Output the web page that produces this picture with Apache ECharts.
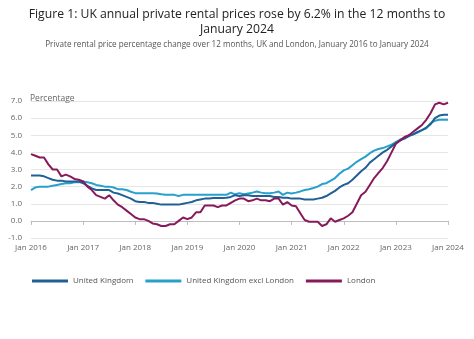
<!DOCTYPE html>
<html>
<head>
<meta charset="utf-8">
<script src="https://cdn.jsdelivr.net/npm/echarts@6/dist/echarts.min.js"></script>
<style>
html,body{margin:0;padding:0;background:#fff;}
#chart{width:474px;height:339px;}
</style>
</head>
<body>
<div id="chart"></div>
<script>
const monthNames = ['Jan','Feb','Mar','Apr','May','Jun','Jul','Aug','Sep','Oct','Nov','Dec'];
const years = [2016,2017,2018,2019,2020,2021,2022,2023,2024];
const categories = [];
years.forEach(y => monthNames.forEach((m, i) => { if (y < 2024 || i === 0) categories.push(m + ' ' + y); }));

const yTicks = [-1, 0, 1, 2, 3, 4, 5, 6, 7];

const unitedKingdom = [
  2.65, 2.65, 2.65, 2.6, 2.5, 2.4, 2.35, 2.35, 2.3, 2.3, 2.3, 2.3,
  2.2, 2.05, 1.9, 1.8, 1.8, 1.8, 1.8, 1.65, 1.6, 1.5, 1.4, 1.3,
  1.15, 1.1, 1.1, 1.05, 1.05, 1.0, 0.95, 0.95, 0.95, 0.95, 0.95, 1.0,
  1.05, 1.1, 1.2, 1.25, 1.3, 1.3, 1.33, 1.33, 1.33, 1.35, 1.4, 1.5,
  1.45, 1.5, 1.5, 1.45, 1.45, 1.45, 1.45, 1.45, 1.4, 1.4, 1.35, 1.35,
  1.3, 1.3, 1.3, 1.25, 1.25, 1.25, 1.3, 1.35, 1.45, 1.6, 1.75, 1.95,
  2.1, 2.2, 2.4, 2.65, 2.9, 3.1, 3.4, 3.6, 3.8, 4.0, 4.15, 4.35,
  4.55, 4.7, 4.8, 4.95, 5.05, 5.2, 5.3, 5.45, 5.65, 6.0, 6.15, 6.2,
  6.2
];
const ukExclLondon = [
  1.8, 1.95, 2.0, 2.0, 2.0, 2.05, 2.1, 2.15, 2.2, 2.2, 2.25, 2.25,
  2.3, 2.25, 2.2, 2.1, 2.05, 2.0, 2.0, 1.95, 1.85, 1.85, 1.8, 1.7,
  1.62, 1.62, 1.62, 1.62, 1.62, 1.6, 1.55, 1.52, 1.52, 1.52, 1.45, 1.52,
  1.52, 1.52, 1.52, 1.52, 1.52, 1.52, 1.52, 1.52, 1.52, 1.52, 1.65, 1.55,
  1.62, 1.55, 1.6, 1.65, 1.72, 1.65, 1.62, 1.62, 1.65, 1.72, 1.52, 1.65,
  1.6, 1.65, 1.72, 1.8, 1.85, 1.92, 2.0, 2.15, 2.2, 2.35, 2.5, 2.75,
  2.95, 3.05, 3.25, 3.45, 3.6, 3.75, 3.95, 4.1, 4.2, 4.25, 4.35, 4.45,
  4.6, 4.75, 4.85, 5.0, 5.05, 5.15, 5.3, 5.4, 5.7, 5.85, 5.9, 5.9,
  5.9
];
const london = [
  3.9, 3.8, 3.7, 3.7, 3.3, 3.0, 3.0, 2.6, 2.7, 2.6, 2.45, 2.4,
  2.3, 2.0, 1.8, 1.5, 1.4, 1.3, 1.5, 1.2, 0.95, 0.8, 0.6, 0.4,
  0.2, 0.1, 0.1, 0.0, -0.15, -0.2, -0.3, -0.3, -0.2, -0.2, 0.0, 0.2,
  0.1, 0.2, 0.5, 0.5, 0.9, 0.9, 0.9, 0.8, 0.9, 0.9, 1.05, 1.2,
  1.3, 1.3, 1.15, 1.2, 1.3, 1.2, 1.2, 1.15, 1.3, 1.3, 0.95, 1.1,
  0.9, 0.85, 0.45, 0.05, -0.05, -0.05, -0.05, -0.3, -0.2, 0.15, -0.05, 0.05,
  0.15, 0.3, 0.5, 1.0, 1.5, 1.7, 2.1, 2.5, 2.8, 3.1, 3.5, 4.0,
  4.5, 4.7, 4.9, 5.0, 5.2, 5.4, 5.6, 5.9, 6.3, 6.8, 6.9, 6.8,
  6.9
];

const FONT = '"Open Sans", "Noto Sans", sans-serif';
const chart = echarts.init(document.getElementById('chart'), null, {renderer: 'canvas'});
chart.setOption({
  animation: false,
  backgroundColor: '#ffffff',
  title: [
    {
      text: 'Figure 1: UK annual private rental prices rose by 6.2% in the 12 months to',
      left: 'center', top: 4,
      textStyle: {fontFamily: FONT, fontSize: 12.2, fontWeight: 'normal', color: '#222222'}
    },
    {
      text: 'January 2024',
      left: 'center', top: 19,
      textStyle: {fontFamily: FONT, fontSize: 12.2, fontWeight: 'normal', color: '#222222'}
    },
    {
      text: 'Private rental price percentage change over 12 months, UK and London, January 2016 to January 2024',
      left: 'center', top: 36,
      textStyle: {fontFamily: FONT, fontSize: 8.1, fontWeight: 'normal', color: '#555555'}
    }
  ],
  legend: {
    bottom: 49,
    left: 27,
    itemWidth: 36, itemHeight: 3,
    itemGap: 12,
    icon: 'rect',
    textStyle: {fontFamily: FONT, fontSize: 8, color: '#555555'},
    data: ['United Kingdom', 'United Kingdom excl London', 'London']
  },
  grid: {left: 31, right: 26, top: 101, bottom: 101, containLabel: false},
  xAxis: {
    type: 'category',
    data: categories,
    boundaryGap: false,
    axisLine: {lineStyle: {color: '#bdbdbd'}},
    axisTick: {show: true, length: 4, interval: (i) => i % 12 === 0, lineStyle: {color: '#bdbdbd'}},
    axisLabel: {interval: (i) => i % 12 === 0, fontFamily: FONT, fontSize: 8, color: '#666666', margin: 6},
    splitLine: {show: false}
  },
  yAxis: {
    type: 'value',
    min: yTicks[0], max: yTicks[yTicks.length - 1], interval: 1,
    name: 'Percentage',
    nameLocation: 'end',
    nameGap: -2,
    nameTextStyle: {fontFamily: FONT, fontSize: 8.5, color: '#666666', align: 'left', padding: [0, 0, 0, -1]},
    axisLine: {show: false},
    axisTick: {show: false},
    axisLabel: {formatter: v => v.toFixed(1), fontFamily: FONT, fontSize: 8, color: '#666666', margin: 9},
    splitLine: {lineStyle: {color: '#e6e6e6'}}
  },
  series: [
    {name: 'United Kingdom', type: 'line', data: unitedKingdom, showSymbol: false, lineStyle: {width: 2, color: '#206095'}, itemStyle: {color: '#206095'}, z: 3},
    {name: 'United Kingdom excl London', type: 'line', data: ukExclLondon, showSymbol: false, lineStyle: {width: 2, color: '#27a0cc'}, itemStyle: {color: '#27a0cc'}, z: 2},
    {name: 'London', type: 'line', data: london, showSymbol: false, lineStyle: {width: 2, color: '#871a5b'}, itemStyle: {color: '#871a5b'}, z: 4}
  ]
});
</script>
</body>
</html>
